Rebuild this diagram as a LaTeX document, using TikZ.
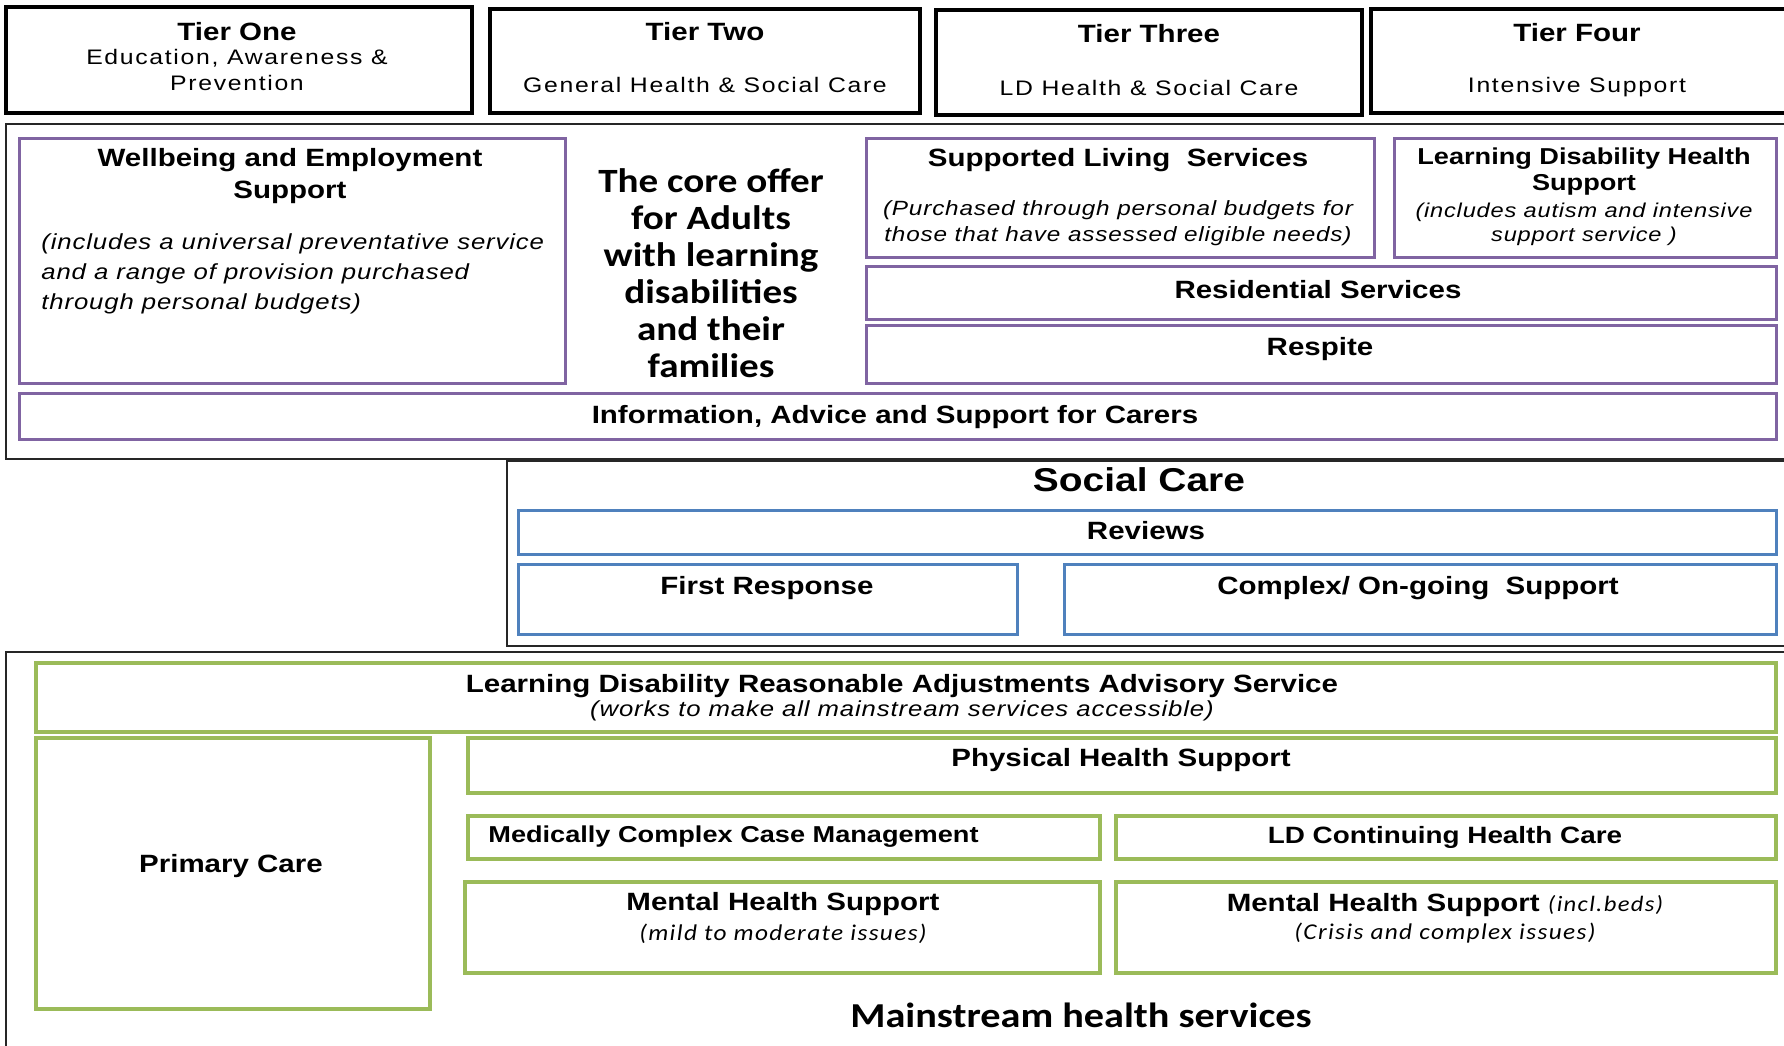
\documentclass[tikz,border=0pt]{standalone}
\usepackage{fontspec}
\setmainfont{Liberation Sans}[FakeStretch=1.18]
\newfontfamily\tierfont{Liberation Sans}[FakeStretch=1.18, LetterSpace=8]
\newfontfamily\itfont{Liberation Sans}[FakeStretch=1.18, LetterSpace=4]
\newfontfamily\calfont{Carlito}[FakeStretch=1.15]
\newfontfamily\calsp{Carlito}[FakeStretch=1.12, LetterSpace=6]
\definecolor{lpurple}{HTML}{8064A2}
\definecolor{lblue}{HTML}{4F81BD}
\definecolor{lgreen}{HTML}{9BBB59}
\newcommand\bx[6]{\node[#1, minimum width={(#5-#3)*0.5pt}, minimum height={(#6-#4)*0.5pt}] (#2) at ({(#3+#5)/2},{(#4+#6)/2}) {};}
\tikzset{
  bb/.style={draw, rectangle, inner sep=0pt, outer sep=0pt},
  tierbox/.style={bb, line width=1.7pt, draw=black},
  outerbox/.style={bb, line width=0.9pt, draw=black!85},
  pbox/.style={bb, line width=1.5pt, draw=lpurple},
  bbox/.style={bb, line width=1.5pt, draw=lblue},
  gbox/.style={bb, line width=1.9pt, draw=lgreen},
  txt/.style={inner sep=0pt, align=center, yshift=-1pt},
  ttl/.style={txt, font=\bfseries\fontsize{12.5}{16}\selectfont},
  tsub/.style={txt, font=\tierfont\fontsize{10.5}{13}\selectfont},
  itl/.style={txt, font=\itfont\itshape\fontsize{10.3}{13}\selectfont},
  core/.style={txt, font=\calfont\bfseries\fontsize{17}{18.5}\selectfont},
  calit/.style={txt, font=\calsp\itshape\fontsize{11.3}{13}\selectfont},
}
\begin{document}
\begin{tikzpicture}[x=0.5pt,y=-0.5pt]
\useasboundingbox (0,0) rectangle (1784,1045);
\clip (0,0) rectangle (1784,1045);
% tier boxes
\bx{tierbox}{tier1}{6}{7}{472}{113}
\bx{tierbox}{tier2}{490}{9}{920}{113}
\bx{tierbox}{tier3}{936}{10}{1362}{115}
\bx{tierbox}{tier4}{1371}{9}{1800}{113}
\node[ttl] (tier1T) at (237,30) {Tier One};
\node[tsub] (tier1S) at (237,68) {Education, Awareness \&\\Prevention};
\node[ttl] (tier2T) at (705,30) {Tier Two};
\node[tsub] (tier2S) at (705,83) {General Health \& Social Care};
\node[ttl] (tier3T) at (1149,32) {Tier Three};
\node[tsub] (tier3S) at (1149,86) {LD Health \& Social Care};
\node[ttl] (tier4T) at (1577,31) {Tier Four};
\node[tsub] (tier4S) at (1577,85) {Intensive Support};
% core offer
\bx{outerbox}{core}{6}{124}{1800}{459}
\bx{pbox}{well}{19}{138}{565}{383}
\bx{pbox}{sls}{866}{138}{1374}{257}
\bx{pbox}{ldh}{1394}{138}{1776}{257}
\bx{pbox}{res}{866}{266}{1776}{319}
\bx{pbox}{resp}{866}{325}{1776}{383}
\bx{pbox}{info}{19}{393}{1776}{439}
\node[ttl] (wellT) at (290,174) {Wellbeing and Employment\\Support};
\node[itl, align=left, anchor=north west, font=\itfont\itshape\fontsize{10.9}{15}\selectfont] (wellS) at (41,231) {(includes a universal preventative service\\and a range of provision purchased\\through personal budgets)};
\node[core] (coreT) at (711,271) {The core offer\\for Adults\\with learning\\disabilities\\and their\\families};
\node[ttl] (slsT) at (1118,158) {Supported Living \ Services};
\node[itl] (slsS) at (1118,221) {(Purchased through personal budgets for\\those that have assessed eligible needs)};
\node[ttl, font=\bfseries\fontsize{11.5}{13}\selectfont] (ldhT) at (1584,170) {Learning Disability Health\\Support};
\node[itl, font=\itfont\itshape\fontsize{10}{12}\selectfont] (ldhS) at (1584,222) {(includes autism and intensive\\support service )};
\node[ttl] (resT) at (1318,288) {Residential Services};
\node[ttl] (respT) at (1320,347) {Respite};
\node[ttl] (infoT) at (895,415) {Information, Advice and Support for Carers};
% social care
\bx{outerbox}{social}{507}{461}{1800}{646}
\node[txt, font=\bfseries\fontsize{16.5}{18}\selectfont] (socialT) at (1139,478) {Social Care};
\bx{bbox}{rev}{518}{510}{1776}{554}
\bx{bbox}{first}{518}{564}{1017}{634}
\bx{bbox}{complex}{1064}{564}{1776}{634}
\node[ttl] (revT) at (1146,529) {Reviews};
\node[ttl] (firstT) at (767,586) {First Response};
\node[ttl] (complexT) at (1418,586) {Complex/ On-going \ Support};
% mainstream health
\bx{outerbox}{mainh}{6}{652}{1800}{1060}
\bx{gbox}{ldraas}{36}{663}{1776}{732}
\bx{gbox}{prim}{36}{738}{430}{1009}
\bx{gbox}{phys}{468}{738}{1776}{793}
\bx{gbox}{med}{468}{816}{1100}{859}
\bx{gbox}{chc}{1116}{816}{1776}{859}
\bx{gbox}{mhone}{465}{882}{1100}{973}
\bx{gbox}{mhtwo}{1116}{882}{1776}{973}
\node[ttl] (ldraasT) at (902,684) {Learning Disability Reasonable Adjustments Advisory Service};
\node[itl, font=\itfont\itshape\fontsize{10.9}{13}\selectfont] (ldraasS) at (902,709) {(works to make all mainstream services accessible)};
\node[ttl] (primT) at (231,864) {Primary Care};
\node[ttl] (physT) at (1121,758) {Physical Health Support};
\node[ttl, anchor=west, font=\bfseries\fontsize{11.5}{16}\selectfont] (medT) at (488,835) {Medically Complex Case Management};
\node[ttl, font=\bfseries\fontsize{11.8}{16}\selectfont] (chcT) at (1445,835) {LD Continuing Health Care};
\node[ttl] (mhoneT) at (783,902) {Mental Health Support};
\node[calit] (mhoneS) at (783,932) {(mild to moderate issues)};
\node[ttl] (mhtwoT) at (1445,903) {Mental Health Support {\calsp\itshape\mdseries\fontsize{11}{13}\selectfont (incl.beds)}};
\node[calit] (mhtwoS) at (1445,931) {(Crisis and complex issues)};
\node[txt, font=\calfont\bfseries\fontsize{17.5}{19}\selectfont] (mainT) at (1081,1013) {Mainstream health services};
\end{tikzpicture}
\end{document}
